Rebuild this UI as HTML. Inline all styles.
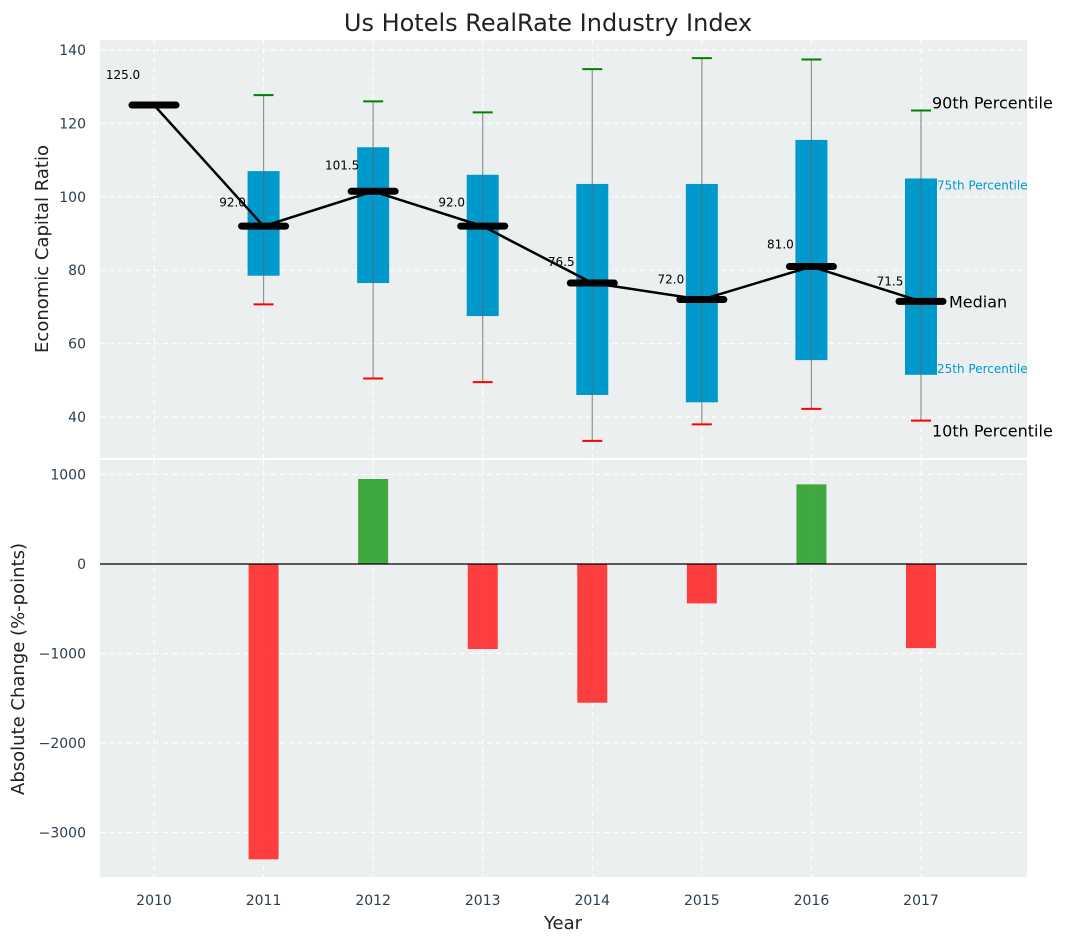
<!DOCTYPE html>
<html><head><meta charset="utf-8"><style>
body{margin:0;background:#fff;font-family:"Liberation Sans","DejaVu Sans",sans-serif}
svg text{font-family:"DejaVu Sans","Liberation Sans",sans-serif}
</style></head><body>
<svg id="c" width="1067" height="942" xmlns="http://www.w3.org/2000/svg"></svg>
<script>
const years=[2010,2011,2012,2013,2014,2015,2016,2017];
const medians=[125,92,101.5,92,76.5,72,81,71.5];
const q1=[null,78.5,76.5,67.5,46,44,55.5,51.5];
const q3=[null,107,113.5,106,103.5,103.5,115.5,105];
const p10=[null,70.7,50.5,49.5,33.5,38,42.2,39];
const p90=[null,127.7,126,123,134.8,137.8,137.4,123.5];
const changes=[null,-3300,950,-950,-1550,-440,890,-940];
const yTicksTop=[40,60,80,100,120,140];
const yTicksBot=[-3000,-2000,-1000,0,1000];
const yTickLabelsBot=["\u22123000","\u22122000","\u22121000","0","1000"];

const svg=document.getElementById('c');
const NS='http://www.w3.org/2000/svg';
function mk(t,a,txt,name){const e=document.createElementNS(NS,t);for(const k in a)e.setAttribute(k,a[k]);if(txt!=null)e.textContent=txt;


svg.appendChild(e);return e;}
const L=100,R=1027;
const x=v=>154+(v-2010)*109.57;
const yT=v=>50+(140-v)*3.67;
const yB=v=>564-v*0.0895;
const T1=40,B1=458,T2=460,B2=877;

mk('text',{x:548,y:31,'text-anchor':'middle','font-size':24,fill:'#222'},'Us Hotels RealRate Industry Index','chart-title');
mk('rect',{x:L,y:T1,width:R-L,height:B1-T1,fill:'#ecefef'},null,'top-plot-area');
mk('rect',{x:L,y:T2,width:R-L,height:B2-T2,fill:'#ecefef'},null,'bottom-plot-area');
years.forEach((yr,i)=>{
 mk('line',{x1:x(yr),x2:x(yr),y1:T1,y2:B1,stroke:'#fff','stroke-dasharray':'5,4'},null,'grid-x-top');
 mk('line',{x1:x(yr),x2:x(yr),y1:T2,y2:B2,stroke:'#fff','stroke-dasharray':'5,4'},null,'grid-x-bottom');
 mk('text',{x:x(yr),y:905,'text-anchor':'middle','font-size':14,fill:'#2c3e50'},String(yr),'x-tick-label');
});
yTicksTop.forEach(v=>{
 mk('line',{x1:L,x2:R,y1:yT(v),y2:yT(v),stroke:'#fff','stroke-dasharray':'5,4'},null,'grid-y-top');
 mk('text',{x:86,y:yT(v)+5,'text-anchor':'end','font-size':14,fill:'#2c3e50'},String(v),'y-tick-label-top');
});
yTicksBot.forEach((v,i)=>{
 mk('line',{x1:L,x2:R,y1:yB(v),y2:yB(v),stroke:'#fff','stroke-dasharray':'5,4'},null,'grid-y-bottom');
 mk('text',{x:86,y:yB(v)+5,'text-anchor':'end','font-size':14,fill:'#2c3e50'},yTickLabelsBot[i],'y-tick-label-bottom');
});
mk('text',{x:48,y:249,'text-anchor':'middle','font-size':18,fill:'#222',transform:'rotate(-90 48 249)'},'Economic Capital Ratio','y-axis-title-top');
mk('text',{x:24,y:669,'text-anchor':'middle','font-size':18,fill:'#222',transform:'rotate(-90 24 669)'},'Absolute Change (%-points)','y-axis-title-bottom');
mk('text',{x:563,y:929,'text-anchor':'middle','font-size':18,fill:'#222'},'Year','x-axis-title');

const bw=32;
years.forEach((yr,i)=>{
 if(q1[i]==null)return;
 const cx=x(yr);
 mk('rect',{x:cx-bw/2,y:yT(q3[i]),width:bw,height:yT(q1[i])-yT(q3[i]),fill:'#0099cc'},null,'box-'+yr);
 mk('line',{x1:cx,x2:cx,y1:yT(p90[i]),y2:yT(p10[i]),stroke:'#666','stroke-opacity':0.7,'stroke-width':1.2},null,'whisker-'+yr);
 mk('line',{x1:cx-10,x2:cx+10,y1:yT(p90[i]),y2:yT(p90[i]),stroke:'green','stroke-width':2},null,'cap-90-'+yr);
 mk('line',{x1:cx-10,x2:cx+10,y1:yT(p10[i]),y2:yT(p10[i]),stroke:'red','stroke-width':2},null,'cap-10-'+yr);
});
mk('polyline',{points:years.map((yr,i)=>x(yr)+','+yT(medians[i])).join(' '),fill:'none',stroke:'#000','stroke-width':2.5},null,'median-line');
years.forEach((yr,i)=>{
 const cx=x(yr),cy=yT(medians[i]);
 mk('line',{x1:cx-22,x2:cx+22,y1:cy,y2:cy,stroke:'#000','stroke-width':7,'stroke-linecap':'round'},null,'median-marker-'+yr);
 mk('text',{x:cx-31,y:yT(medians[i]*1.05)-3,'text-anchor':'middle','font-size':12,fill:'#000'},medians[i].toFixed(1),'median-label-'+yr);
});
const lx=x(2017);
mk('text',{x:lx+11,y:yT(p90[7])-2,'font-size':16,fill:'#000'},'90th Percentile','annotation-90th');
mk('text',{x:lx+16,y:yT(q3[7])+11,'font-size':12,fill:'#0099cc'},'75th Percentile','annotation-75th');
mk('text',{x:lx+28,y:yT(medians[7])+6,'font-size':16,fill:'#000'},'Median','annotation-median');
mk('text',{x:lx+16,y:yT(q1[7])-2,'font-size':12,fill:'#0099cc'},'25th Percentile','annotation-25th');
mk('text',{x:lx+11,y:yT(p10[7])+16,'font-size':16,fill:'#000'},'10th Percentile','annotation-10th');

years.forEach((yr,i)=>{
 const v=changes[i]; if(v==null)return;
 const y0=yB(0),y1=yB(v);
 mk('rect',{x:x(yr)-15,y:Math.min(y0,y1),width:30,height:Math.abs(y1-y0),fill:v>=0?'#2ca02c':'#ff2a2a','fill-opacity':0.9},null,'change-bar-'+yr);
});
mk('line',{x1:L,x2:R,y1:yB(0),y2:yB(0),stroke:'#000','stroke-width':1.2},null,'zero-line');
</script>
</body></html>
